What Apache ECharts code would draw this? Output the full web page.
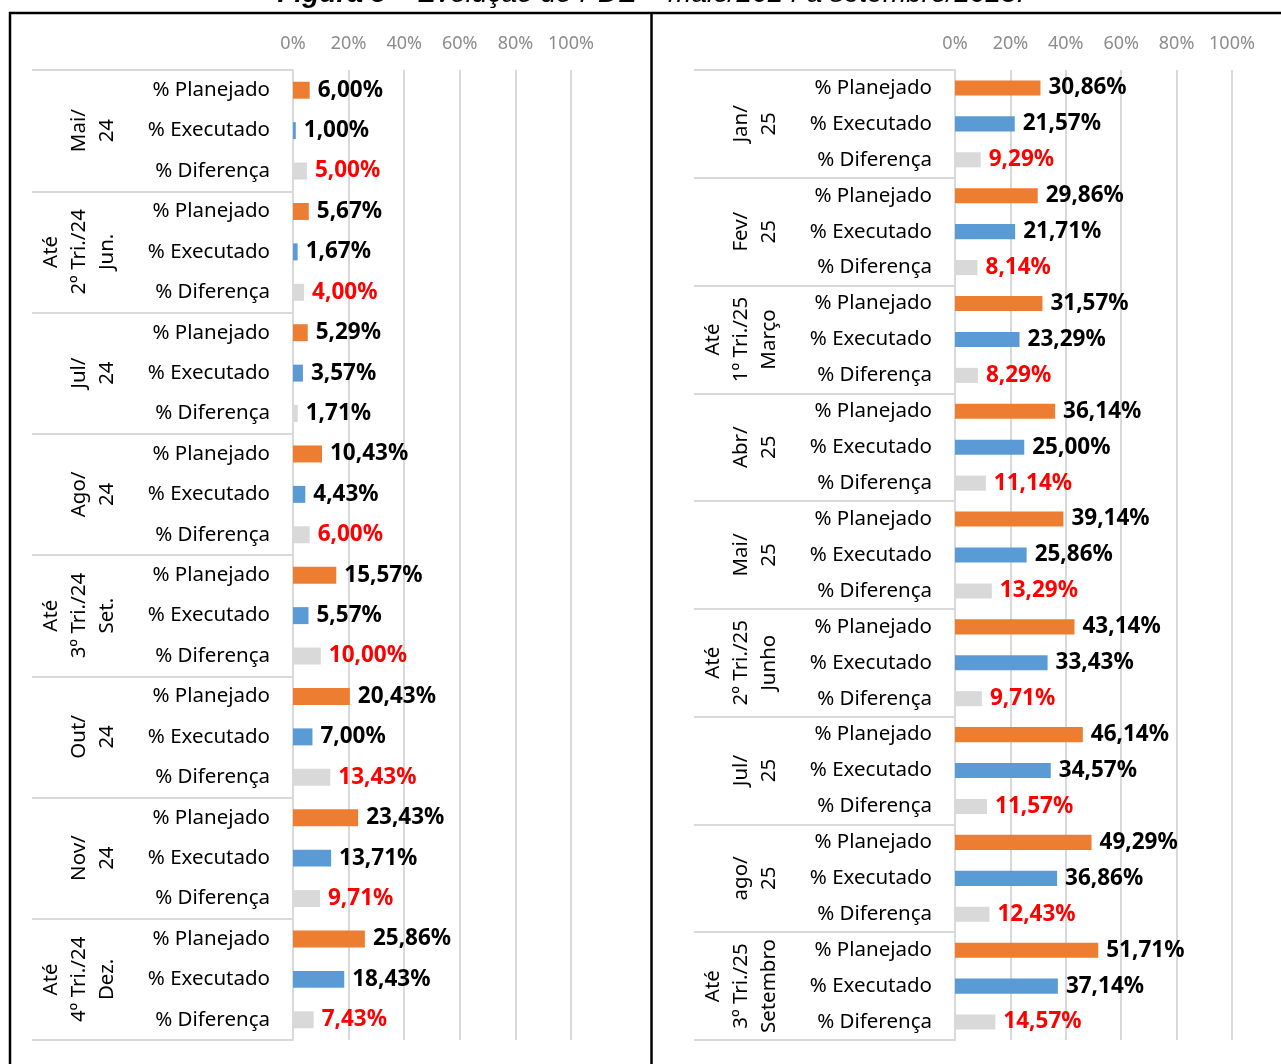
<!DOCTYPE html>
<html>
<head>
<meta charset="utf-8">
<script src="https://cdn.jsdelivr.net/npm/echarts@6/dist/echarts.min.js"></script>
<style>
html,body{margin:0;padding:0;background:#fff;}
#chart{width:1281px;height:1064px;}
</style>
</head>
<body>
<div id="chart"></div>
<script>
// ---------- DATA ----------
const rowLabels = ['% Planejado', '% Executado', '% Diferença'];
const tickValues = [0, 20, 40, 60, 80, 100];

const leftGroups = ['Mai/\n24', 'Até\n2º Tri./24\nJun.', 'Jul/\n24', 'Ago/\n24', 'Até\n3º Tri./24\nSet.', 'Out/\n24', 'Nov/\n24', 'Até\n4º Tri./24\nDez.'];
const leftPlanejado = [6.00, 5.67, 5.29, 10.43, 15.57, 20.43, 23.43, 25.86];
const leftExecutado = [1.00, 1.67, 3.57, 4.43, 5.57, 7.00, 13.71, 18.43];
const leftDiferenca = [5.00, 4.00, 1.71, 6.00, 10.00, 13.43, 9.71, 7.43];

const rightGroups = ['Jan/\n25', 'Fev/\n25', 'Até\n1º Tri./25\nMarço', 'Abr/\n25', 'Mai/\n25', 'Até\n2º Tri./25\nJunho', 'Jul/\n25', 'ago/\n25', 'Até\n3º Tri./25\nSetembro'];
const rightPlanejado = [30.86, 29.86, 31.57, 36.14, 39.14, 43.14, 46.14, 49.29, 51.71];
const rightExecutado = [21.57, 21.71, 23.29, 25.00, 25.86, 33.43, 34.57, 36.86, 37.14];
const rightDiferenca = [9.29, 8.14, 8.29, 11.14, 13.29, 9.71, 11.57, 12.43, 14.57];

// ---------- STYLE ----------
const FONT = '"Noto Sans", "Open Sans", sans-serif';
const COLORS = ['#ED7D31', '#5B9BD5', '#D9D9D9'];
const LABEL_COLORS = ['#000000', '#000000', '#FF0000'];
const GRID_COLOR = '#D9D9D9';
// groups (left panel) whose difference label is printed in black
const leftBlackDiff = [2];

function fmt(v) { return v.toFixed(2).replace('.', ',') + '%'; }

function buildCats(groups) {
  const out = [];
  groups.forEach(() => rowLabels.forEach(r => out.push(r)));
  return out;
}
function buildData(plan, exe, dif, blackDiff) {
  const out = [];
  for (let i = 0; i < plan.length; i++) {
    [plan[i], exe[i], dif[i]].forEach((v, k) => {
      let lc = LABEL_COLORS[k];
      if (k === 2 && blackDiff.indexOf(i) >= 0) lc = '#000000';
      out.push({ value: v, itemStyle: { color: COLORS[k] }, label: { color: lc } });
    });
  }
  return out;
}

function xAxisCfg(gi) {
  return {
    gridIndex: gi, type: 'value', position: 'top', min: 0, max: 100, interval: 20,
    axisLabel: { formatter: '{value}%', color: '#8C8C8C', fontSize: 18, fontFamily: FONT, margin: 17 },
    axisLine: { show: false }, axisTick: { show: false },
    splitLine: { show: true, lineStyle: { color: GRID_COLOR, width: 2 } }
  };
}
function innerY(gi, cats) {
  return {
    gridIndex: gi, type: 'category', data: cats, inverse: true, position: 'left',
    axisLine: { show: true, lineStyle: { color: GRID_COLOR, width: 2 } },
    axisTick: { show: false },
    axisLabel: { interval: 0, margin: 23, fontSize: 20.5, color: '#000', fontFamily: FONT }
  };
}
function outerY(gi, groups) {
  return {
    gridIndex: gi, type: 'category', data: groups, inverse: true, position: 'left', offset: 0,
    axisLine: { show: false },
    axisTick: { show: true, length: 261, lineStyle: { color: GRID_COLOR, width: 2 } },
    axisLabel: { interval: 0, rotate: 90, margin: 172, fontSize: 20.5, lineHeight: 28, color: '#000', fontFamily: FONT },
    splitLine: { show: false }
  };
}
function barSeries(xi, yi, data) {
  return {
    type: 'bar', xAxisIndex: xi, yAxisIndex: yi, data: data, barWidth: '42%',
    label: {
      show: true, position: 'right', distance: 8, fontSize: 22.5, fontWeight: 'bold', fontFamily: FONT,
      formatter: p => fmt(p.value)
    }
  };
}

const chart = echarts.init(document.getElementById('chart'));
chart.setOption({
  animation: false,
  backgroundColor: '#fff',
  graphic: [
    { type: 'text', x: 651, y: -6, style: {
        text: '{b|Figura 5} – Evolução do PDE – maio/2024 a setembro/2025.',
        font: 'italic 28px "Liberation Sans", Arial, sans-serif', fill: '#000',
        align: 'center', verticalAlign: 'middle',
        rich: { b: { fontWeight: 'bold', fontStyle: 'italic', fontSize: 28, fontFamily: '"Liberation Sans", Arial, sans-serif' } }
      } },
    { type: 'line', shape: { x1: 9, y1: 13, x2: 1281, y2: 13 }, style: { stroke: '#000', lineWidth: 2.5 } },
    { type: 'line', shape: { x1: 10, y1: 12, x2: 10, y2: 1064 }, style: { stroke: '#000', lineWidth: 2.5 } },
    { type: 'line', shape: { x1: 651.5, y1: 12, x2: 651.5, y2: 1064 }, style: { stroke: '#000', lineWidth: 2.5 } }
  ],
  grid: [
    { left: 293, top: 70, width: 278, height: 970 },
    { left: 955, top: 70, width: 277, height: 970 }
  ],
  xAxis: [xAxisCfg(0), xAxisCfg(1)],
  yAxis: [
    innerY(0, buildCats(leftGroups)), outerY(0, leftGroups),
    innerY(1, buildCats(rightGroups)), outerY(1, rightGroups)
  ],
  series: [
    barSeries(0, 0, buildData(leftPlanejado, leftExecutado, leftDiferenca, leftBlackDiff)),
    barSeries(1, 2, buildData(rightPlanejado, rightExecutado, rightDiferenca, []))
  ]
});
</script>
</body>
</html>
